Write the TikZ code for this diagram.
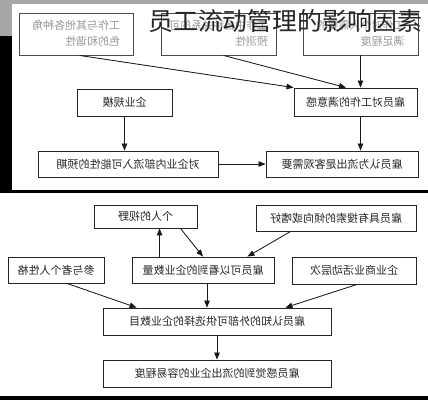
\documentclass[tikz,border=0pt]{standalone}
\usepackage{fontspec}
\usepackage{graphicx}
\newfontfamily\cjk{Noto Sans CJK SC}
\usetikzlibrary{arrows.meta}
\begin{document}
\begin{tikzpicture}[x=1pt,y=-1pt,
  box/.style={draw=black!85, line width=0.9pt, fill=white, inner sep=0pt,
    font=\cjk\fontsize{11}{16}\selectfont, text=black!85},
  faded/.style={box, draw=black!70, text=black!40},
  arr/.style={-{Triangle[length=7pt,width=5.5pt]}, line width=0.8pt, draw=black!90, fill=black!90},
  titletext/.style={anchor=west, inner sep=0pt, font=\cjk\fontsize{24}{24}\selectfont, text=black!85}
]
\useasboundingbox (0,0) rectangle (428,400);
% background and scan frame
\fill[white] (0,0) rectangle (428,400);
\fill[gray!70] (0,0) rectangle (428,4);
\fill[gray!70] (0,0) rectangle (12,36);
\fill[black] (0,36) rectangle (12,192);
\fill[black] (0,190) rectangle (428,193);
\fill[black] (0,396) rectangle (428,400);

% upper diagram
\node[faded, minimum width=114pt, minimum height=42pt] (A) at (76,34)
  {\reflectbox{\begin{tabular}{@{}l@{}}工作与其他各种角\\色的和谐性\end{tabular}}};
\node[faded, minimum width=115pt, minimum height=42pt] (B) at (218.5,34)
  {\reflectbox{\begin{tabular}{@{}l@{}}工作中各种关系的可\\预测性\end{tabular}}};
\node[faded, minimum width=115pt, minimum height=42pt] (C) at (360.5,34)
  {\reflectbox{\begin{tabular}{@{}l@{}}工作对个人需要的\\满足程度\end{tabular}}};
\node[box, minimum width=123pt, minimum height=28pt] (D) at (355.5,102)
  {\reflectbox{雇员对工作的满意感}};
\node[box, minimum width=95pt, minimum height=27pt] (E) at (124.5,102.5)
  {\reflectbox{企业规模}};
\node[box, minimum width=180pt, minimum height=26pt] (F) at (128,164)
  {\reflectbox{对企业内部流入可能性的预期}};
\node[box, minimum width=152pt, minimum height=26pt] (G) at (342,164)
  {\reflectbox{雇员认为流出是客观需要}};

\draw[arr] ([xshift=61pt]A.south west) -- (D.north west);
\draw[arr] ([xshift=5pt]B.south) -- ([xshift=-9.5pt]D.north);
\draw[arr] (C.south) -- (C.south |- D.north);
\draw[arr] (E.south) -- (E.south |- F.north);
\draw[arr] (C.south |- D.south) -- (C.south |- G.north);
\draw[arr] (F.east) -- (G.west);

% lower diagram
\node[box, minimum width=103pt, minimum height=23pt] (H) at (145.5,216.5)
  {\reflectbox{个人的视野}};
\node[box, minimum width=160pt, minimum height=26pt] (I) at (336,218)
  {\reflectbox{雇员具有搜索的倾向或嗜好}};
\node[box, minimum width=96pt, minimum height=26pt] (J) at (56,270)
  {\reflectbox{参与者个人性格}};
\node[box, minimum width=142pt, minimum height=26pt] (K) at (203,270)
  {\reflectbox{雇员可以看到的企业数量}};
\node[box, minimum width=124pt, minimum height=27pt] (L) at (354,270.5)
  {\reflectbox{企业商业活动层次}};
\node[box, minimum width=228pt, minimum height=27pt] (M) at (217,321.5)
  {\reflectbox{雇员认知的外部可供选择的企业数目}};
\node[box, minimum width=228pt, minimum height=27pt] (N) at (217,373.5)
  {\reflectbox{雇员感觉到的流出企业的容易程度}};

\coordinate (k1) at ([xshift=28pt]K.north west);
\coordinate (k2) at ([xshift=4pt]K.south);
\draw[arr] (k1) -- (k1 |- H.south);
\draw[arr] ([xshift=-17pt]H.south east) -- (K.north);
\draw[arr] ([xshift=35pt]I.south west) -- ([xshift=-27pt]K.north east);
\draw[arr] ([xshift=11pt]J.south) -- ([xshift=34pt]M.north west);
\draw[arr] (k2) -- (k2 |- M.north);
\draw[arr] ([xshift=3pt]L.south) -- ([xshift=-46pt]M.north east);
\draw[arr] (M.south) -- (N.north);

% overlaid title
\node[titletext] (T) at (148,21) {\resizebox{274pt}{!}{员工流动管理的影响因素}};
\end{tikzpicture}
\end{document}
